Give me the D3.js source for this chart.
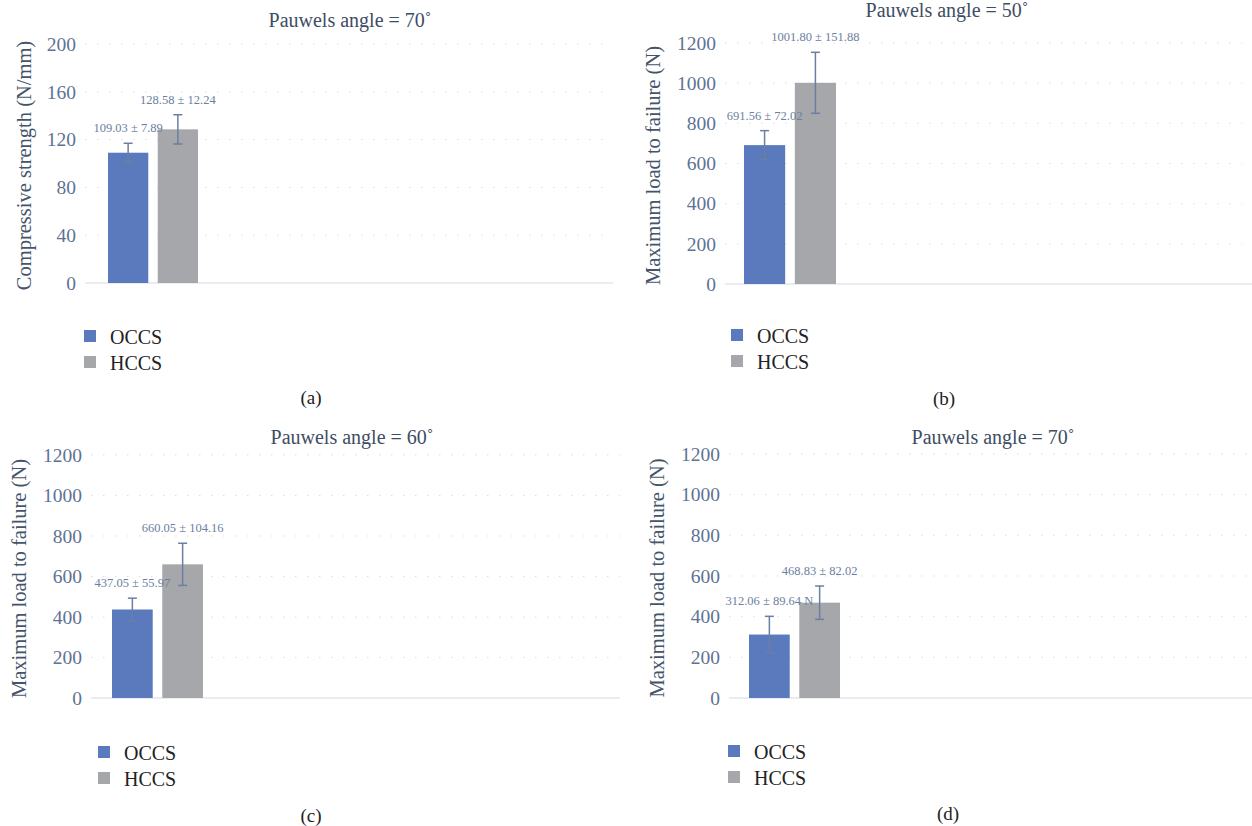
<!DOCTYPE html>
<html>
<head>
<meta charset="utf-8">
<script src="https://cdn.jsdelivr.net/npm/d3@7"></script>
<style>
  body { margin: 0; background: #fff; }
  svg { display: block; }
  text { font-family: "Liberation Serif", "DejaVu Serif", serif; }
</style>
</head>
<body>
<svg id="chart" width="1252" height="826"></svg>
<script>
// data
const groups = ["OCCS", "HCCS"];
const panelTitles = ["Pauwels angle = 70˚", "Pauwels angle = 50˚", "Pauwels angle = 60˚", "Pauwels angle = 70˚"];
const panelLetters = ["(a)", "(b)", "(c)", "(d)"];
const yTitles = ["Compressive strength (N/mm)", "Maximum load to failure (N)", "Maximum load to failure (N)", "Maximum load to failure (N)"];
const yMaxes = [200, 1200, 1200, 1200];
const yTicks = [[0, 40, 80, 120, 160, 200], [0, 200, 400, 600, 800, 1000, 1200], [0, 200, 400, 600, 800, 1000, 1200], [0, 200, 400, 600, 800, 1000, 1200]];
const means = [[109.03, 128.58], [691.56, 1001.80], [437.05, 660.05], [312.06, 468.83]];
const sds = [[7.89, 12.24], [72.02, 151.88], [55.97, 104.16], [89.64, 82.02]];
const valueLabels = [
  ["109.03 ± 7.89", "128.58 ± 12.24"],
  ["691.56 ± 72.02", "1001.80 ± 151.88"],
  ["437.05 ± 55.97", "660.05 ± 104.16"],
  ["312.06 ± 89.64 N", "468.83 ± 82.02"]
];

// layout of each panel (pixels)
const layout = [
  {left: 85, right: 613, top: 44, bottom: 283, baseEnd: 613, tx: 350, ty: 20, yt: 24, lx: 84, ly: 330, px: 311, py: 397, b0: 23, b1: 113},
  {left: 725, right: 1242, top: 43, bottom: 284, baseEnd: 1252, tx: 947, ty: 10, yt: 653, lx: 731, ly: 329, px: 944, py: 398, b0: 19, b1: 111},
  {left: 91, right: 620, top: 455, bottom: 698, baseEnd: 620, tx: 352, ty: 437, yt: 19, lx: 98, ly: 746, px: 311, py: 815, b0: 21, b1: 112},
  {left: 729, right: 1247, top: 454, bottom: 698, baseEnd: 1252, tx: 993, ty: 437, yt: 657, lx: 728, ly: 745, px: 948, py: 813, b0: 20, b1: 111}
];

const FONT = "'Liberation Serif', 'DejaVu Serif', serif";
const colors = d3.scaleOrdinal().domain(groups).range(["#5a7abd", "#a6a7aa"]);
const tickColor = "#5d7293";
const svg = d3.select("#chart");

layout.forEach((L, p) => {
  const g = svg.append("g").attr("font-family", FONT);
  const y = d3.scaleLinear().domain([0, yMaxes[p]]).range([L.bottom, L.top]);
  const x = d3.scaleBand().domain(groups).range([L.left + L.b0, L.left + L.b1]).paddingInner(0.19);

  // dotted gridlines
  g.append("g")
    .selectAll("line")
    .data(yTicks[p].filter(t => t > 0))
    .join("line")
    .attr("x1", L.left).attr("x2", L.right)
    .attr("y1", d => y(d)).attr("y2", d => y(d))
    .attr("stroke", "#dcdde3")
    .attr("stroke-width", 1)
    .attr("stroke-dasharray", "1.5,10.5");

  // y axis labels
  const axis = g.append("g")
    .attr("transform", `translate(${L.left - 9},0)`)
    .call(d3.axisLeft(y).tickValues(yTicks[p]).tickFormat(d3.format("d")).tickSize(0).tickPadding(0));
  axis.attr("font-family", FONT);
  axis.select(".domain").remove();
  axis.selectAll("text")
    .attr("fill", tickColor)
    .attr("font-family", FONT)
    .attr("font-size", 19.5);

  // baseline
  g.append("line")
    .attr("x1", L.left).attr("x2", L.baseEnd)
    .attr("y1", y(0)).attr("y2", y(0))
    .attr("stroke", "#e4e6ee")
    .attr("stroke-width", 1.6);

  // bars
  g.append("g")
    .selectAll("rect")
    .data(groups)
    .join("rect")
    .attr("x", d => x(d))
    .attr("width", x.bandwidth())
    .attr("y", (d, i) => y(means[p][i]))
    .attr("height", (d, i) => y(0) - y(means[p][i]))
    .attr("fill", d => colors(d));

  // error bars
  const err = g.append("g")
    .attr("stroke", "#6a7fa3")
    .attr("stroke-width", 1.5);
  groups.forEach((gr, i) => {
    const cx = x(gr) + x.bandwidth() / 2;
    const hi = y(means[p][i] + sds[p][i]);
    const lo = y(means[p][i] - sds[p][i]);
    err.append("line").attr("x1", cx).attr("x2", cx).attr("y1", hi).attr("y2", lo);
    err.append("line").attr("x1", cx - 4.5).attr("x2", cx + 4.5).attr("y1", hi).attr("y2", hi);
    err.append("line").attr("x1", cx - 4.5).attr("x2", cx + 4.5).attr("y1", lo).attr("y2", lo);
  });

  // value labels
  g.append("g")
    .selectAll("text")
    .data(groups)
    .join("text")
    .attr("x", d => x(d) + x.bandwidth() / 2)
    .attr("y", (d, i) => y(means[p][i] + sds[p][i]) - 15)
    .attr("text-anchor", "middle")
    .attr("dominant-baseline", "central")
    .attr("fill", "#6b7fa0")
    .attr("font-family", FONT)
    .attr("font-size", 12.5)
    .text((d, i) => valueLabels[p][i]);

  // title
  g.append("text")
    .attr("x", L.tx).attr("y", L.ty)
    .attr("text-anchor", "middle")
    .attr("dominant-baseline", "central")
    .attr("fill", "#3e4d63")
    .attr("font-family", FONT)
    .attr("font-size", 20)
    .text(panelTitles[p]);

  // y axis title
  g.append("text")
    .attr("transform", `translate(${L.yt},${(L.top + L.bottom) / 2 + 2}) rotate(-90)`)
    .attr("text-anchor", "middle")
    .attr("dominant-baseline", "central")
    .attr("fill", "#44546a")
    .attr("font-family", FONT)
    .attr("font-size", 20.5)
    .text(yTitles[p]);

  // legend
  const leg = g.append("g")
    .selectAll("g")
    .data(groups)
    .join("g")
    .attr("transform", (d, i) => `translate(${L.lx},${L.ly + i * 26})`);
  leg.append("rect").attr("width", 12).attr("height", 12).attr("fill", d => colors(d));
  leg.append("text")
    .attr("x", 26).attr("y", 7)
    .attr("dominant-baseline", "central")
    .attr("fill", "#222")
    .attr("font-family", FONT)
    .attr("font-size", 20)
    .text(d => d);

  // panel letter
  g.append("text")
    .attr("x", L.px).attr("y", L.py)
    .attr("text-anchor", "middle")
    .attr("dominant-baseline", "central")
    .attr("fill", "#222")
    .attr("font-family", FONT)
    .attr("font-size", 19)
    .text(panelLetters[p]);
});
</script>
</body>
</html>
